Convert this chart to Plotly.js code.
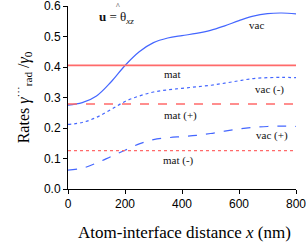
<!DOCTYPE html>
<html><head><meta charset="utf-8">
<script src="https://cdn.plot.ly/plotly-3.0.1.min.js"></script>
<style>html,body{margin:0;padding:0;background:#fff}#chart{width:306px;height:244px}</style>
</head><body><div id="chart"></div>
<script>
const xs = [0,50,100,150,200,250,300,350,400,450,500,550,600,650,700,750,800];
const vac      = [0.275,0.283,0.305,0.350,0.405,0.450,0.480,0.495,0.503,0.510,0.520,0.535,0.552,0.567,0.575,0.577,0.574];
const vacMinus = [0.212,0.218,0.235,0.260,0.287,0.305,0.318,0.325,0.330,0.335,0.340,0.347,0.355,0.362,0.365,0.366,0.365];
const vacPlus  = [0.062,0.068,0.085,0.106,0.127,0.148,0.162,0.168,0.172,0.176,0.182,0.190,0.197,0.202,0.205,0.206,0.205];
const matVal = 0.405, matPlusVal = 0.279, matMinusVal = 0.126;
const xRange = [0, 800];
const labels = [
  {text:'vac', x:663, y:0.538},
  {text:'mat', x:365, y:0.376},
  {text:'vac (-)', x:708, y:0.326},
  {text:'mat (+)', x:393, y:0.242},
  {text:'vac (+)', x:715, y:0.177},
  {text:'mat (-)', x:386, y:0.095}
];
const blue = '#4466ff', red = '#ff6a6a';
const traces = [
  {x:xs, y:vac, mode:'lines', line:{color:blue, width:1.2, shape:'spline'}},
  {x:xs, y:vacMinus, mode:'lines', line:{color:blue, width:1.2, dash:'dot', shape:'spline'}},
  {x:xs, y:vacPlus, mode:'lines', line:{color:blue, width:1.2, dash:'dash', shape:'spline'}},
  {x:xRange, y:[matVal,matVal], mode:'lines', line:{color:red, width:1.8}},
  {x:xRange, y:[matPlusVal,matPlusVal], mode:'lines', line:{color:red, width:1.5, dash:'dash'}},
  {x:xRange, y:[matMinusVal,matMinusVal], mode:'lines', line:{color:red, width:1.2, dash:'dot'}}
];
const serif = 'Liberation Serif, Times New Roman, serif';
const ann = labels.map(l => ({x:l.x, y:l.y, text:l.text, showarrow:false, xanchor:'center', yanchor:'middle', font:{family:serif, size:11, color:'#111'}}));
ann.push({xref:'paper', yref:'paper', x:0.125, y:0.935, xanchor:'left', yanchor:'middle', showarrow:false,
  text:'<b>u</b> = θ<sub><i>xz</i></sub>', font:{family:serif, size:13, color:'#111'}});
ann.push({xref:'paper', yref:'paper', x:0.218, y:0.995, xanchor:'center', yanchor:'middle', showarrow:false,
  text:'^', font:{family:serif, size:8, color:'#111'}});
ann.push({xref:'paper', yref:'paper', x:0.513, y:-0.235, xanchor:'center', yanchor:'middle', showarrow:false,
  text:'Atom-interface distance <i>x</i> (nm)', font:{family:serif, size:17, color:'#000'}});
const layout = {
  width:306, height:244,
  margin:{l:68, r:10, t:6, b:55},
  showlegend:false,
  paper_bgcolor:'#fff', plot_bgcolor:'#fff',
  xaxis:{range:xRange, tickvals:[0,200,400,600,800], ticks:'outside', ticklen:4, tickcolor:'#000', automargin:false,
    ticklabeloverflow:'allow',
    showline:true, linecolor:'#000', linewidth:1, showgrid:false, zeroline:false,
    tickfont:{family:'Liberation Sans, Arial, sans-serif', size:12, color:'#000'}},
  yaxis:{range:[0,0.6], tickvals:[0,0.1,0.2,0.3,0.4,0.5,0.6], tickformat:'.1f', ticks:'outside', ticklen:4, tickcolor:'#000', automargin:false,
    ticklabeloverflow:'allow',
    showline:true, linecolor:'#000', linewidth:1, showgrid:false, zeroline:false,
    tickfont:{family:'Liberation Sans, Arial, sans-serif', size:12, color:'#000'},
    title:{text:'Rates <i>γ</i><sup>···</sup><sub>rad</sub> /<i>γ</i><sub>0</sub>', font:{family:serif, size:16, color:'#000'}, standoff:10}},
  annotations:ann
};
Plotly.newPlot('chart', traces, layout, {displayModeBar:false, staticPlot:true});
</script></body></html>
